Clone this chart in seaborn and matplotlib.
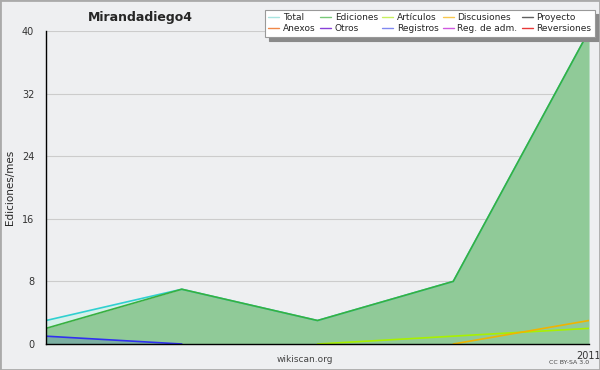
import matplotlib
matplotlib.use("Agg")
import matplotlib.pyplot as plt
import seaborn as sns
import numpy as np
import pandas as pd
from matplotlib.lines import Line2D
from matplotlib.patches import Rectangle

# monthly values
months = [0, 1, 2, 3, 4]
month_labels = ["", "", "", "", "2011"]
total = [3, 7, 3, 8, 40]
ediciones = [2, 7, 3, 8, 40]
articulos = [np.nan, np.nan, 0, 1, 2]
discusiones = [np.nan, np.nan, np.nan, 0, 3]
registros = [1, 0, np.nan, np.nan, np.nan]

legend_names = ["Total", "Anexos", "Ediciones", "Otros", "Artículos", "Registros",
                "Discusiones", "Reg. de adm.", "Proyecto", "Reversiones"]
legend_colors = ["#a8e4e0", "#f08848", "#78c878", "#8840d8", "#c8f060", "#8088f0",
                 "#f8c850", "#d058e0", "#606060", "#e83838"]

sns.set_style("white")
plt.rcParams["font.family"] = ["DejaVu Sans"]

fig = plt.figure(figsize=(6, 3.7), dpi=100, facecolor="#eeeff1")
ax = fig.add_axes([46 / 600, 26 / 370, 543 / 600, 313 / 370])
ax.set_facecolor("#eeeff1")

df = pd.DataFrame({"x": months, "total": total, "ediciones": ediciones,
                   "articulos": articulos, "discusiones": discusiones,
                   "registros": registros})

# fills
ax.fill_between(df["x"], df["total"], color="#d6f0ea", lw=0)
ax.fill_between(df["x"], df["ediciones"], color="#90ca98", lw=0)
reg = df.dropna(subset=["registros"])
ax.fill_between(reg["x"], reg["registros"], color="#4060c0", alpha=0.25, lw=0)

sns.lineplot(data=df, x="x", y="total", color="#30d0d0", lw=1.2, ax=ax)
sns.lineplot(data=df, x="x", y="ediciones", color="#38b040", lw=1.2, ax=ax)
sns.lineplot(data=df, x="x", y="articulos", color="#a8f000", lw=1.2, ax=ax)
sns.lineplot(data=df, x="x", y="discusiones", color="#f0b400", lw=1.2, ax=ax)
sns.lineplot(data=df, x="x", y="registros", color="#3030f0", lw=1.2, ax=ax)

ax.set_xlim(0, 4)
ax.set_ylim(0, 40)
ax.set_xticks(months)
ax.set_xticklabels(month_labels, fontsize=7, color="#333333")
ax.set_yticks([0, 8, 16, 24, 32, 40])
ax.set_yticks(np.arange(0, 41, 2), minor=True)
ax.tick_params(axis="y", which="major", length=5, labelsize=7, colors="#333333", direction="out")
ax.tick_params(axis="y", which="minor", length=3, direction="out")
ax.tick_params(axis="x", length=4, direction="out", pad=1)
ax.yaxis.grid(True, color="#cccccc", lw=0.8)
ax.set_axisbelow(True)
for s in ["top", "right"]:
    ax.spines[s].set_visible(False)
for s in ["left", "bottom"]:
    ax.spines[s].set_color("black")
    ax.spines[s].set_linewidth(1)
ax.set_xlabel("")
ax.set_ylabel("Ediciones/mes", fontsize=7.5)
ax.yaxis.set_label_coords(-31 / 543, 0.5)

fig.text(140 / 600, 1 - 17 / 370, "Mirandadiego4", fontsize=9, fontweight="bold",
         ha="center", va="center")
fig.text(305 / 600, 1 - 360 / 370, "wikiscan.org", fontsize=6.5, ha="center",
         va="center", color="#444444")
fig.text(589 / 600, 1 - 362 / 370, "CC BY-SA 3.0", fontsize=4.5, ha="right",
         va="center", color="#444444")

handles = [Line2D([], [], color=c, lw=1) for c in legend_colors]
leg = fig.legend(handles, legend_names, ncol=5, loc="upper left",
                 bbox_to_anchor=(265 / 600, 1 - 10 / 370), fontsize=6.5,
                 frameon=True, fancybox=False, handlelength=1.25, handletextpad=0.4,
                 columnspacing=0.45, labelspacing=0.25, borderpad=0.35,
                 borderaxespad=0, framealpha=1,
                 shadow={"color": "#8a8a8a", "alpha": 1, "ox": 3, "oy": -3})
leg.get_frame().set_edgecolor("#999999")
leg.get_frame().set_linewidth(0.8)
leg.set_zorder(6)

fig.patches.append(Rectangle((0, 0), 1, 1, transform=fig.transFigure, fill=False,
                             edgecolor="#aaaaaa", lw=2, zorder=10))

fig.savefig("out.png", dpi=100)
